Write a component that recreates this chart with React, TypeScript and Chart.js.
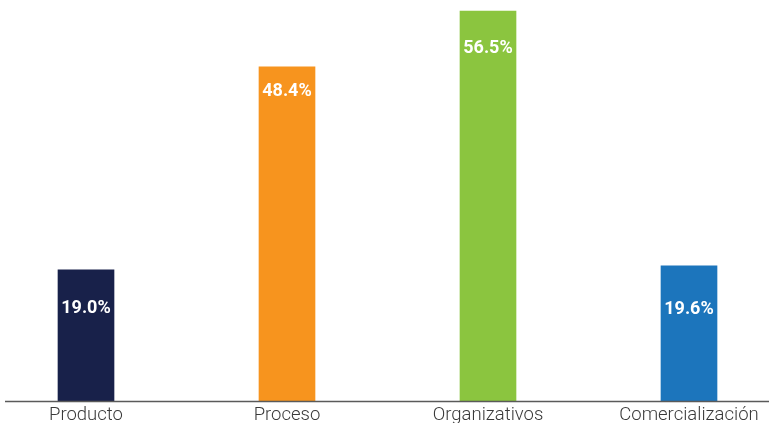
import React, { useEffect, useRef } from "react";
import { Chart, registerables } from "chart.js";

Chart.register(...registerables);

const categories = ["Producto", "Proceso", "Organizativos", "Comercialización"];
const values = [19.0, 48.4, 56.5, 19.6];
const barColors = ["#18214A", "#F7941E", "#8BC53F", "#1C75BC"];
const labelOffsets = [39, 25, 37, 44];

export default function App() {
  const ref = useRef<HTMLCanvasElement | null>(null);
  useEffect(() => {
    document.body.style.margin = "0";
    const ctx = ref.current!;
    const valueLabels = {
      id: "valueLabels",
      afterDatasetsDraw(chart: any) {
        const c = chart.ctx;
        const meta = chart.getDatasetMeta(0);
        const area = chart.chartArea;
        c.save();
        c.strokeStyle = "#5a5a5a";
        c.lineWidth = 1.5;
        c.beginPath();
        c.moveTo(5, area.bottom + 0.5);
        c.lineTo(chart.width, area.bottom + 0.5);
        c.stroke();
        c.fillStyle = "#ffffff";
        c.font = "bold 18px Roboto";
        c.textAlign = "center";
        c.textBaseline = "middle";
        meta.data.forEach((bar: any, i: number) => {
          c.fillText(values[i].toFixed(1) + "%", bar.x, bar.y + labelOffsets[i]);
        });
        c.restore();
      },
    };
    const chart = new Chart(ctx, {
      type: "bar",
      data: {
        labels: categories,
        datasets: [
          {
            data: values,
            backgroundColor: barColors,
            barThickness: 56,
            clip: false as any,
          },
        ],
      },
      options: {
        animation: false,
        responsive: true,
        maintainAspectRatio: false,
        layout: { padding: { left: 86, right: 80, top: 0, bottom: 0 } },
        plugins: { legend: { display: false }, tooltip: { enabled: false } },
        scales: {
          x: {
            offset: false,
            grid: { display: false, drawTicks: false },
            border: { display: false },
            afterFit: (scale: any) => {
              scale.height = 22;
            },
            ticks: {
              color: "#3a3a3a",
              font: { family: "Roboto", size: 18.5, weight: "300" as any },
              padding: 3,
              maxRotation: 0,
              autoSkip: false,
            },
          },
          y: {
            display: false,
            min: 0,
            max: 58.1,
          },
        },
      },
      plugins: [valueLabels],
    });
    return () => chart.destroy();
  }, []);
  return (
    <div style={{ width: 769, height: 423, position: "relative" }}>
      <canvas ref={ref} />
    </div>
  );
}
